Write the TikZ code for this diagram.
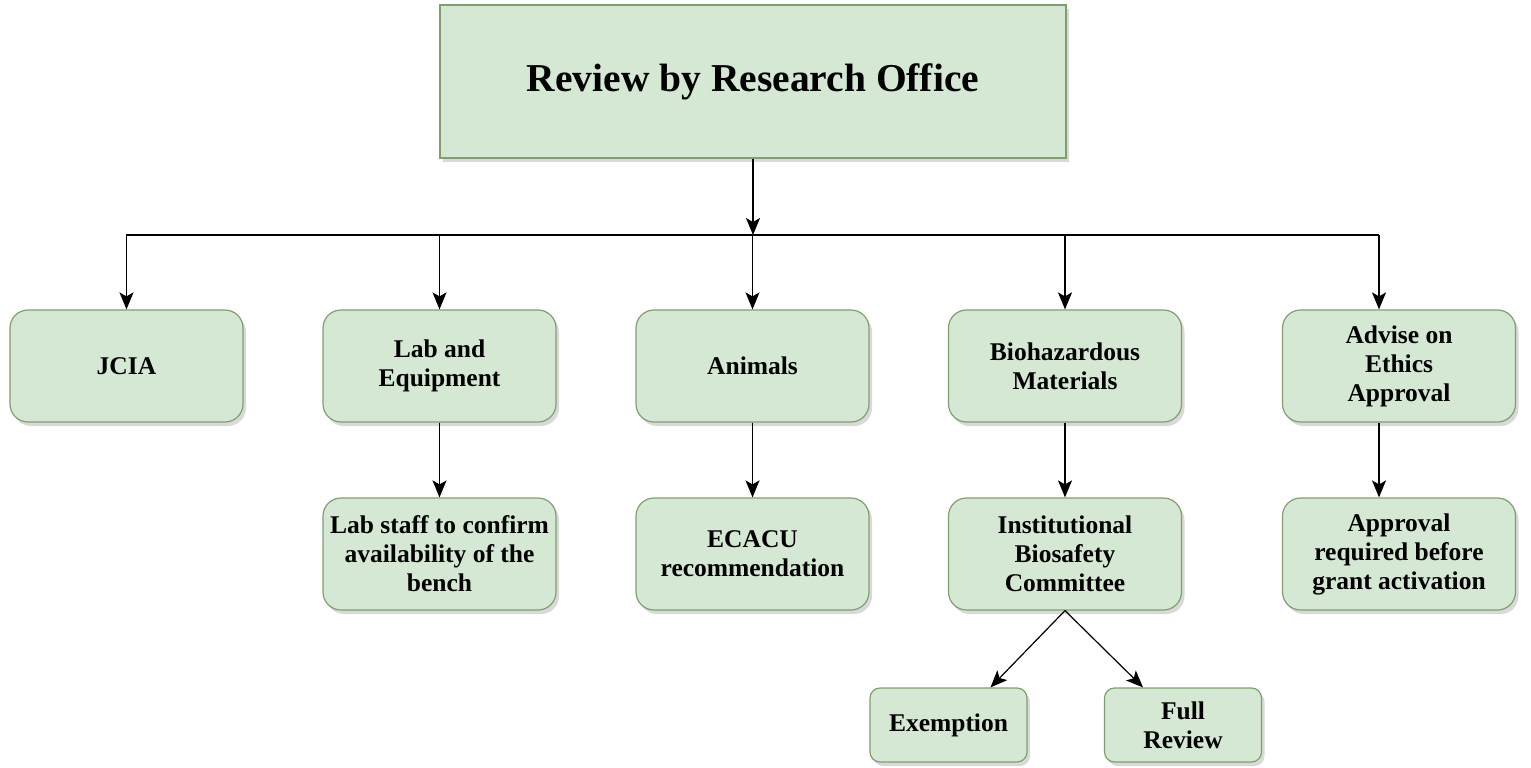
\documentclass[tikz,border=0pt]{standalone}
\usepackage{fontspec}
\setmainfont{Liberation Serif}
\usepackage{xcolor}
\usepackage{tikz}
\usetikzlibrary{arrows.meta, positioning, shadows}

\definecolor{boxfill}{HTML}{D5E8D4}
\definecolor{boxline}{HTML}{7FA06E}

\begin{document}
\begin{tikzpicture}[x=1pt, y=-1pt,
    base/.style={draw=boxline, line width=1.2pt, fill=boxfill, align=center,
        inner sep=0pt, font=\bfseries\fontsize{25.5}{29}\selectfont,
        drop shadow={shadow xshift=3pt, shadow yshift=-4pt, opacity=0.3}},
    card/.style={base, rounded corners=18pt, minimum width=233pt, minimum height=112pt},
    leaf/.style={base, rounded corners=10pt, minimum width=157pt, minimum height=74pt},
    link/.style={line width=1.6pt, -{Stealth[length=17pt, width=14pt, inset=4pt]}}]
    \useasboundingbox (0,0) rectangle (1531,768);

    % Top level
    \node[base, minimum width=626pt, minimum height=153pt,
        font=\bfseries\fontsize{39.5}{44}\selectfont] (office) at (753,81.5) {Review by Research Office};

    % Second row
    \node[card] (jcia) at (126.5,366) {JCIA};
    \node[card] (lab) at (439.5,366) {Lab and\\Equipment};
    \node[card] (animals) at (752.5,366) {Animals};
    \node[card] (biohaz) at (1065,366) {Biohazardous\\Materials};
    \node[card] (ethics) at (1399,366) {Advise on\\Ethics\\Approval};

    % Third row
    \node[card] (labstaff) at (439.5,554) {Lab staff to confirm\\availability of the\\bench};
    \node[card] (ecacu) at (752.5,554) {ECACU\\recommendation};
    \node[card] (ibc) at (1065,554) {Institutional\\Biosafety\\Committee};
    \node[card] (approval) at (1399,554) {Approval\\required before\\grant activation};

    % Fourth row
    \node[leaf] (exempt) at (948.5,725) {Exemption};
    \node[leaf] (fullrev) at (1183,725) {Full\\Review};

    % Bus
    \coordinate (bus) at (753,235);
    \coordinate (busL) at (126,235);
    \coordinate (busR) at (1379,235);
    \draw[line width=1.6pt] (busL) -- (busR);
    \draw[link] (office.south) -- (bus);
    \foreach \n in {jcia, lab, animals, biohaz} {
        \draw[link] (\n.north |- bus) -- (\n.north);
    }
    \draw[link] (busR) -- (busR |- ethics.north);

    % Down links
    \draw[link] (lab.south) -- (labstaff.north);
    \draw[link] (animals.south) -- (ecacu.north);
    \draw[link] (biohaz.south) -- (ibc.north);
    \draw[link] (busR |- ethics.south) -- (busR |- approval.north);
    \draw[link, line width=1.2pt] (ibc.south) -- ([xshift=42pt]exempt.north);
    \draw[link, line width=1.2pt] (ibc.south) -- ([xshift=-40pt]fullrev.north);
\end{tikzpicture}
\end{document}
